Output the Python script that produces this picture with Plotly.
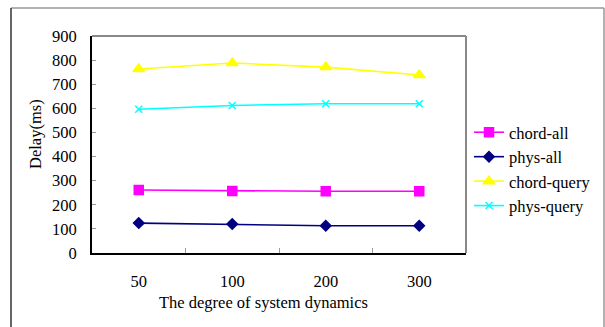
import plotly.graph_objects as go

categories = ["50", "100", "200", "300"]
chord_all = [261, 257, 256, 256]
phys_all = [124, 120, 113, 113]
chord_query = [763, 788, 771, 738]
phys_query = [596, 612, 619, 619]
y_ticks = [0, 100, 200, 300, 400, 500, 600, 700, 800, 900]

FONT = "Liberation Serif"
FS = 16.5
W, H = 605, 327
L, R, T, B = 92, 466, 36, 253

def px(x):
    return x / W

def py(y):
    return 1 - y / H

fig = go.Figure()
series = [
    ("chord-all", chord_all, "#ff00ff", "square", 9),
    ("phys-all", phys_all, "#000080", "diamond", 8),
    ("chord-query", chord_query, "#ffff00", "triangle-up", 10),
    ("phys-query", phys_query, "#00ffff", "x-thin", 7),
]
for name, vals, col, sym, size in series:
    fig.add_trace(go.Scatter(
        x=categories, y=vals, name=name, mode="lines+markers",
        line=dict(color=col, width=1.6),
        marker=dict(symbol=sym, size=size, color=col,
                    line=dict(color=col, width=1.5)),
        legendgroup=name,
    ))

fig.update_layout(
    width=W, height=H,
    margin=dict(l=0, r=0, t=0, b=0),
    paper_bgcolor="white", plot_bgcolor="white",
    font=dict(family=FONT, size=FS, color="black"),
    showlegend=True,
    legend=dict(x=px(469), y=py(115), xanchor="left", yanchor="top",
                font=dict(family=FONT, size=FS), itemwidth=30,
                tracegroupgap=0, bgcolor="rgba(0,0,0,0)"),
    xaxis=dict(type="category", range=[-0.5, 3.5], showgrid=False,
               domain=[px(L), px(R)], automargin=False,
               showline=True, linecolor="black", linewidth=2,
               ticks="inside", tickson="boundaries", ticklen=5,
               tickcolor="#999999", tickwidth=1,
               ticklabelstandoff=12,
               tickfont=dict(family=FONT, size=FS), zeroline=False),
    yaxis=dict(range=[0, 900], tickvals=y_ticks, showgrid=False,
               domain=[py(B), py(T)], automargin=False,
               showline=True, linecolor="black", linewidth=2,
               ticks="inside", ticklen=4, tickcolor="#999999", tickwidth=1,
               ticklabelstandoff=10,
               tickfont=dict(family=FONT, size=FS), zeroline=False),
    shapes=[
        dict(type="line", xref="paper", yref="paper", x0=px(L), x1=px(R),
             y0=py(T), y1=py(T), line=dict(color="#888888", width=2)),
        dict(type="line", xref="paper", yref="paper", x0=px(R), x1=px(R),
             y0=py(B), y1=py(T), line=dict(color="#888888", width=2)),
        dict(type="line", xref="paper", yref="paper", x0=px(11), x1=px(604),
             y0=py(8), y1=py(8), line=dict(color="#999999", width=1.5)),
        dict(type="line", xref="paper", yref="paper", x0=px(604), x1=px(604),
             y0=py(8), y1=0, line=dict(color="#999999", width=1.5)),
        dict(type="line", xref="paper", yref="paper", x0=px(11), x1=px(11),
             y0=py(8), y1=0, line=dict(color="#333333", width=1.5)),
    ],
    annotations=[
        dict(text="The degree of system dynamics", xref="paper", yref="paper",
             x=px(263), y=py(302), showarrow=False, xanchor="center",
             yanchor="middle", font=dict(family=FONT, size=FS)),
        dict(text="Delay(ms)", xref="paper", yref="paper",
             x=px(35), y=py(134), showarrow=False, textangle=-90,
             xanchor="center", yanchor="middle", font=dict(family=FONT, size=FS)),
    ],
)

fig.write_html("out.html")
